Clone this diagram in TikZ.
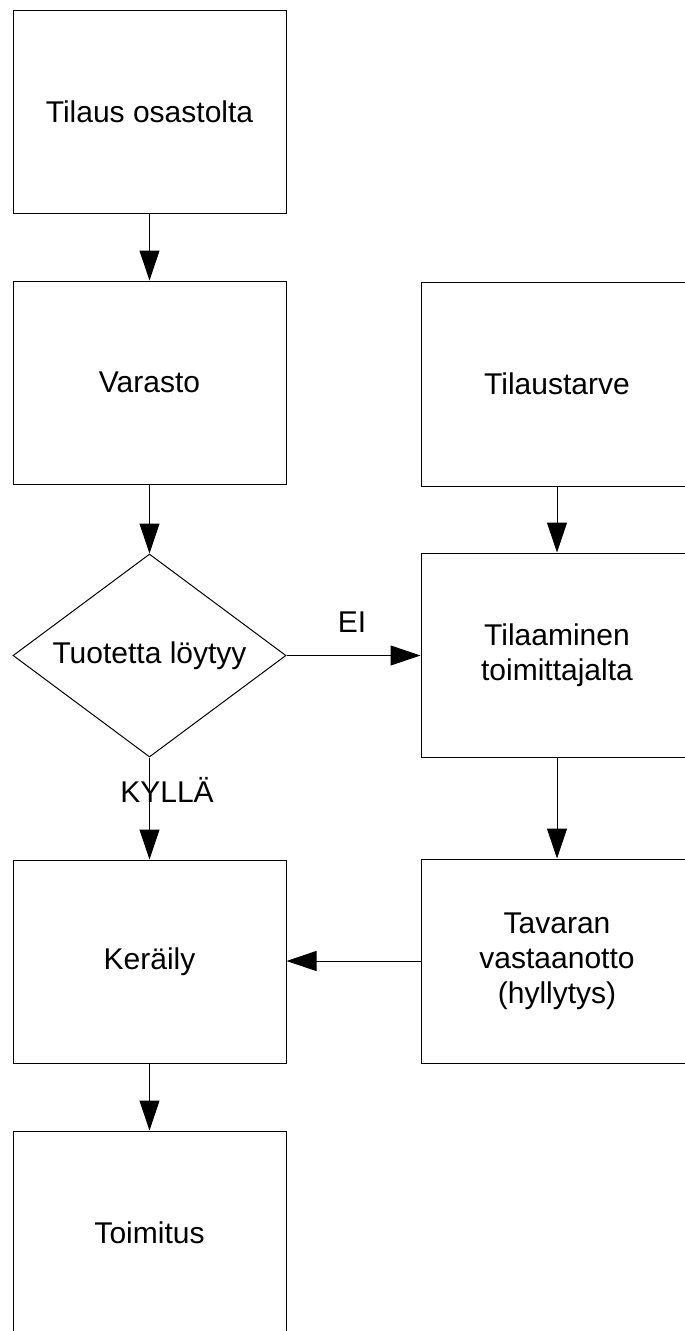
\documentclass[tikz,border=0pt]{standalone}
\usepackage{fontspec}
\setmainfont{Liberation Sans}
\usetikzlibrary{arrows.meta,shapes.geometric}
\begin{document}
\begin{tikzpicture}[x=1pt,y=-1pt,
  txt/.style={font=\fontsize{30}{35}\selectfont,align=center,inner sep=0pt},
  box/.style={txt,draw,line width=1pt,minimum width=273pt,minimum height=203pt},
  rbox/.style={txt,draw,line width=1pt,minimum width=272pt,minimum height=204pt},
  dec/.style={txt,draw,line width=1pt,shape=diamond,aspect=1.345,minimum width=273pt,minimum height=203pt},
  arr/.style={line width=1pt,-{Triangle[length=30pt,width=20pt]}}]
\useasboundingbox (0,0) rectangle (685,1331);
\clip (0,0) rectangle (685,1331);
\node[box] (t1) at (149.5,111.5) {Tilaus osastolta};
\node[box] (varasto) at (149.5,382.5) {Varasto};
\node[rbox] (tarve) at (557,384) {Tilaustarve};
\node[dec] (dia) at (149.5,655.5) {Tuotetta löytyy};
\node[rbox] (tilaam) at (557,655) {Tilaaminen\\toimittajalta};
\node[box] (keraily) at (149.5,961.5) {Keräily};
\node[rbox] (tavaran) at (557,961) {Tavaran\\vastaanotto\\(hyllytys)};
\node[box] (toimitus) at (149.5,1232.5) {Toimitus};
\node[txt] (ei) at (352,622) {EI};
\node[txt] (kylla) at (167,790) {KYLLÄ};
\draw[arr] (t1.south) -- (varasto.north);
\draw[arr] (varasto.south) -- (dia.north);
\draw[arr] (dia.south) -- (keraily.north);
\draw[arr] (keraily.south) -- (toimitus.north);
\draw[arr] (tarve.south) -- (tilaam.north);
\draw[arr] (tilaam.south) -- (tavaran.north);
\draw[arr] (dia.east) -- (dia.east -| tilaam.west);
\draw[arr] (tavaran.west) -- (tavaran.west -| keraily.east);
\end{tikzpicture}
\end{document}
